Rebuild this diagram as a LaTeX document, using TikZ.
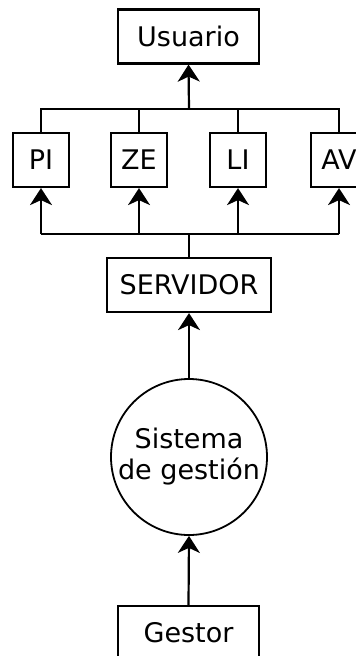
\documentclass[tikz,border=0pt]{standalone}
\usepackage{fontspec}
\setmainfont{DejaVu Sans}
\usetikzlibrary{arrows.meta}
\begin{document}
\begin{tikzpicture}[x=1pt,y=-1pt,
  every node/.style={font=\fontsize{27}{31}\selectfont, inner sep=0pt, align=center},
  box/.style={draw, line width=2.2pt, minimum height=54pt},
  small/.style={box, minimum width=56pt},
  circ/.style={draw, circle, line width=1.8pt, minimum size=156pt},
  link/.style={line width=2.2pt},
  arrow/.style={link, -{Stealth[length=17pt,width=22pt,inset=5pt]}}]
  \useasboundingbox (0,0) rectangle (356,656);
  \clip (0,0) rectangle (356,656);
  % nodes
  \node[box, minimum width=141pt] (usu) at (188.5,36.5) {Usuario};
  \node[small] (pi) at (41,160) {PI};
  \node[small] (ze) at (139,160) {ZE};
  \node[small] (li) at (238,160) {LI};
  \node[small] (av) at (339,160) {AV};
  \node[box, minimum width=164pt] (serv) at (189,285) {SERVIDOR};
  \node[circ] (sis) at (189,457) {Sistema\\de gestión};
  \node[box, minimum width=141pt] (ges) at (188.5,633) {Gestor};
  % junction points of the two bars
  \coordinate (topbar) at (189,109);
  \coordinate (botbar) at (189,234);
  % upper bar joining the four services to the user
  \draw[link] (pi.north) |- (topbar) -| (av.north);
  \draw[link] (ze.north) -- (ze.north |- topbar);
  \draw[link] (li.north) -- (li.north |- topbar);
  \draw[arrow] (topbar) -- (usu.south);
  % lower bar from the server to the services
  \draw[link] (pi.south |- botbar) -- (av.south |- botbar);
  \draw[link] (serv.north) -- (botbar);
  \foreach \n in {pi,ze,li,av}
    \draw[arrow] (\n.south |- botbar) -- (\n.south);
  % vertical chain
  \draw[arrow] (sis.north) -- (serv.south);
  \draw[arrow] (ges.north) -- (sis.south);
\end{tikzpicture}
\end{document}
